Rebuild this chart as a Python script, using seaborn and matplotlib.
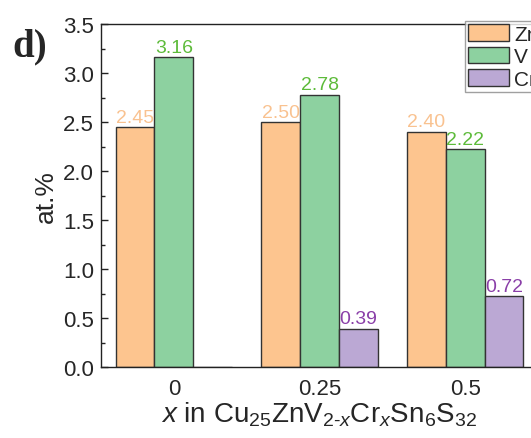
import matplotlib
matplotlib.use("Agg")
import matplotlib.pyplot as plt
import seaborn as sns
import pandas as pd
from matplotlib.ticker import MultipleLocator
from matplotlib.patches import Patch

# Data
categories = ["0", "0.25", "0.5"]
elements = ["Zn", "V", "Cr"]
zn_values = [2.45, 2.50, 2.40]
v_values = [3.16, 2.78, 2.22]
cr_values = [0.0, 0.39, 0.72]
label_texts = {
    "Zn": ["2.45", "2.50", "2.40"],
    "V": ["3.16", "2.78", "2.22"],
    "Cr": ["", "0.39", "0.72"],
}

fill_colors = {"Zn": "#FDC58F", "V": "#8DD1A0", "Cr": "#BBA8D4"}
label_colors = {"Zn": "#F9C290", "V": "#5DBB3A", "Cr": "#8A3FA8"}

sns.set_style("ticks")
plt.rcParams["font.family"] = ["Liberation Sans", "DejaVu Sans"]
plt.rcParams["mathtext.fontset"] = "custom"
plt.rcParams["mathtext.rm"] = "Liberation Sans"
plt.rcParams["mathtext.it"] = "Liberation Sans:italic"
plt.rcParams["mathtext.bf"] = "Liberation Sans:bold"

rows = []
for el, vals in zip(elements, [zn_values, v_values, cr_values]):
    for c, v in zip(categories, vals):
        rows.append({"x": c, "at": v, "element": el})
df = pd.DataFrame(rows)

fig = plt.figure(figsize=(5.31, 4.39), dpi=100)
ax = fig.add_axes([101 / 531, 71 / 439, 437 / 531, 343 / 439])

sns.barplot(data=df, x="x", y="at", hue="element", order=categories,
            hue_order=elements, palette=fill_colors, saturation=1,
            edgecolor="#333333", linewidth=1.0, width=0.8, ax=ax,
            legend=False)

for cont, el in zip(ax.containers, elements):
    ax.bar_label(cont, labels=label_texts[el], color=label_colors[el],
                 fontsize=14, padding=1)

ax.set_xlim(-0.5, 2.5)
ax.set_ylim(0, 3.5)
ax.yaxis.set_major_locator(MultipleLocator(0.5))
ax.yaxis.set_minor_locator(MultipleLocator(0.25))
ax.set_yticklabels([f"{v:.1f}" for v in ax.get_yticks()])
ax.tick_params(axis="both", which="both", direction="in", labelsize=16,
               color="#222222")
ax.tick_params(axis="y", which="major", length=5, width=1, pad=5)
ax.tick_params(axis="y", which="minor", length=3, width=1)
ax.tick_params(axis="x", which="major", length=4, width=1, pad=8)
for s in ax.spines.values():
    s.set_visible(True)
    s.set_linewidth(1.0)
    s.set_color("#222222")

ax.set_ylabel("at.%", fontsize=19, labelpad=4)
ax.set_xlabel(r"$x$ in Cu$_{25}$ZnV$_{2\text{-}x}$Cr$_x$Sn$_6$S$_{32}$",
              fontsize=20, labelpad=0)

handles = [Patch(facecolor=fill_colors[e], edgecolor="#333333", linewidth=1.0)
           for e in elements]
leg = ax.legend(handles, elements, loc="upper left",
                bbox_to_anchor=(465 / 531, 1 - 22 / 439),
                bbox_transform=fig.transFigure, borderaxespad=0,
                fontsize=15, frameon=True, fancybox=False,
                edgecolor="#888888", handlelength=1.95, handleheight=0.85,
                handletextpad=0.25, labelspacing=0.15, borderpad=0.15)
leg.get_frame().set_linewidth(1.0)

fig.text(12 / 531, 1 - 47 / 439, "d)", fontsize=28, fontweight="bold",
         family=["Liberation Serif", "DejaVu Serif"], va="center", ha="left")

fig.savefig("out.png", dpi=100)
